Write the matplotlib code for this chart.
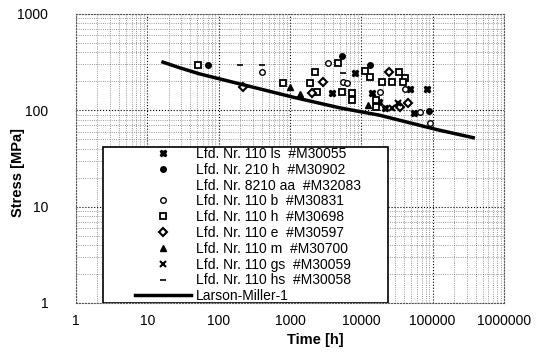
import numpy as np
import matplotlib
matplotlib.use("Agg")
import matplotlib.pyplot as plt
from matplotlib.patches import Rectangle
from matplotlib.ticker import FixedLocator, LogLocator, NullFormatter

plt.rcParams['font.family'] = ['Liberation Sans', 'DejaVu Sans']

# Messpunkte (Zeit [h], Spannung [MPa])
ls_t = [8150, 3882, 14120, 17700, 21480, 48110, 83380, 54770]
ls_s = [244, 151, 151, 122, 106, 166, 166, 94]

h210_t = [70.9, 13240, 88900, 5357]
h210_s = [296, 296, 98, 366]

aa_t = []
aa_s = []

b_t = [405, 5535, 6296, 18280, 40950, 66500, 91840, 3412]
b_s = [250, 197, 192, 155, 166, 96, 74, 310]

h_t = [51.3, 798, 1909, 2243, 4711, 2392, 5357, 7396, 7396, 11270, 13240,
       33750, 40950, 19500, 26920, 38390, 16070, 16070]
h_s = [296, 192, 192, 250, 310, 155, 155, 151, 128, 256, 222,
       250, 217, 197, 197, 197, 128, 108]

e_t = [2902, 2036, 24430, 34850, 45110, 219]
e_s = [197, 151, 250, 108, 119, 175]

m_t = [1000, 1381, 12410]
m_s = [175, 148, 114]

gs_t = [32680, 26920]
gs_s = [119, 106]

hs_t = [199, 5535, 405]
hs_s = [296, 244, 296]

# Larson-Miller-1 Kurve
lm_t = [16.6, 29, 55, 1100, 5000, 18000, 115000, 370000]
lm_s = [316, 275, 238, 137, 106, 89, 63, 52]

labels = ['Lfd. Nr. 110 ls  #M30055', 'Lfd. Nr. 210 h  #M30902',
          'Lfd. Nr. 8210 aa  #M32083', 'Lfd. Nr. 110 b  #M30831',
          'Lfd. Nr. 110 h  #M30698', 'Lfd. Nr. 110 e  #M30597',
          'Lfd. Nr. 110 m  #M30700', 'Lfd. Nr. 110 gs  #M30059',
          'Lfd. Nr. 110 hs  #M30058', 'Larson-Miller-1']

x_ticks = [1, 10, 100, 1000, 10000, 100000, 1000000]
x_labels = ['1', '10', '100', '1000', '10000', '100000', '1000000']
y_ticks = [1, 10, 100, 1000]
y_labels = ['1', '10', '100', '1000']

fig = plt.figure(figsize=(5.48, 3.64), dpi=100)
ax = fig.add_axes([0.1387, 0.1676, 0.781, 0.794])

ax.set_xscale('log')
ax.set_yscale('log')
ax.set_xlim(1, 1e6)
ax.set_ylim(1, 1000)

ax.xaxis.set_major_locator(FixedLocator(x_ticks))
ax.set_xticklabels(x_labels)
ax.yaxis.set_major_locator(FixedLocator(y_ticks))
ax.set_yticklabels(y_labels)
ax.xaxis.set_minor_locator(LogLocator(base=10, subs=np.arange(2, 10), numticks=20))
ax.yaxis.set_minor_locator(LogLocator(base=10, subs=np.arange(2, 10), numticks=20))
ax.xaxis.set_minor_formatter(NullFormatter())
ax.yaxis.set_minor_formatter(NullFormatter())

ax.tick_params(which='both', length=0, labelsize=10)
ax.tick_params(axis='x', pad=8)
ax.tick_params(axis='y', pad=20)

ax.grid(which='major', color='black', linestyle=':', linewidth=0.8)
ax.grid(which='minor', color='#777777', linestyle=':', linewidth=0.6)
for sp in ax.spines.values():
    sp.set_color('#555555')
    sp.set_linewidth(0.8)
    sp.set_linestyle(':')

mk = dict(linestyle='none', color='black', zorder=4)
ax.plot(ls_t, ls_s, marker='X', markersize=5, **mk, label=labels[0])
ax.plot(h210_t, h210_s, marker='o', markersize=4, **mk, label=labels[1])
ax.plot(aa_t, aa_s, marker='none', **mk, label=labels[2])
ax.plot(b_t, b_s, marker='o', markersize=4, mfc='white', mew=1.0, **mk, label=labels[3])
ax.plot(h_t, h_s, marker='s', markersize=5, mfc='white', mew=1.3, **mk, label=labels[4])
ax.plot(e_t, e_s, marker='D', markersize=4, mfc='white', mew=1.5, **mk, label=labels[5])
ax.plot(m_t, m_s, marker='^', markersize=4.5, **mk, label=labels[6])
ax.plot(gs_t, gs_s, marker='x', markersize=4.5, mew=1.5, **mk, label=labels[7])
ax.plot(hs_t, hs_s, marker='_', markersize=5, mew=1.2, **mk, label=labels[8])
ax.plot(lm_t, lm_s, color='black', linewidth=2.5, zorder=4, label=labels[9])

# Legendenrahmen
ax.add_patch(Rectangle((0.063, 0.0), 0.666, 0.54, transform=ax.transAxes,
                       facecolor='white', edgecolor='black', linewidth=1.2, zorder=5))
ax.legend(loc='upper left', bbox_to_anchor=(0.138, 0.54), frameon=False,
          fontsize=10, labelspacing=0.13, handlelength=4.0, handletextpad=0.4,
          borderpad=0.0, borderaxespad=0.0).set_zorder(6)

ax.set_xlabel('Time [h]', fontsize=10.5, fontweight='bold')
ax.xaxis.set_label_coords(0.56, -0.105)
ax.set_ylabel('Stress [MPa]', fontsize=10.5, fontweight='bold')
ax.yaxis.set_label_coords(-0.119, 0.45)

fig.savefig('out.png', dpi=100)
